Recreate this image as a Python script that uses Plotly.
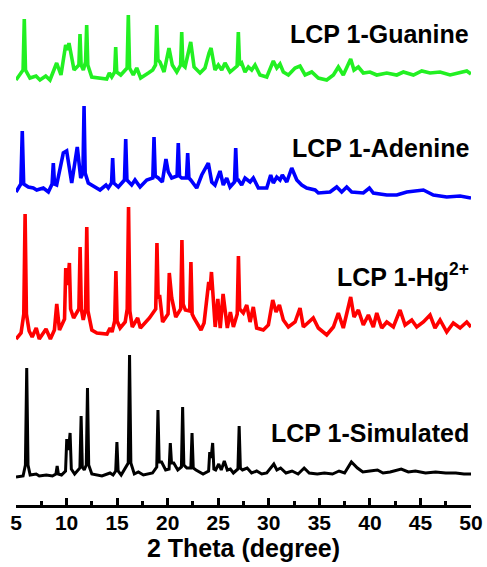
import plotly.graph_objects as go

# ---------------- data ----------------
# two-theta positions (degree) and relative intensities for each pattern
sim_x = [5.0, 5.7, 5.93, 6.06, 6.19, 6.4, 7.0, 7.3, 8.0, 8.6, 8.95, 9.07, 9.19, 9.5, 9.9, 10.02,
         10.2, 10.35, 10.47, 10.8, 11.32, 11.44, 11.56, 11.75, 11.95, 12.07, 12.19, 12.5, 13.5,
         14.3, 14.6, 14.86, 14.98, 15.1, 15.4, 16.1, 16.23, 16.36, 16.7, 17.1, 17.6, 18.5, 18.92,
         19.04, 19.16, 19.4, 19.8, 20.14, 20.26, 20.38, 20.6, 21.0, 21.36, 21.48, 21.6, 21.9,
         22.29, 22.41, 22.53, 22.8, 23.5, 24.05, 24.16, 24.3, 24.45, 24.57, 24.75, 25.05, 25.3,
         25.6, 25.9, 26.2, 26.5, 26.95, 27.07, 27.19, 27.4, 27.86, 28.3, 28.8, 29.3, 29.8, 30.5,
         30.8, 31.17, 31.7, 32.3, 32.9, 33.5, 34.0, 34.8, 35.5, 36.3, 36.95, 37.5, 38.17, 38.77,
         39.3, 40.0, 40.75, 41.3, 42.0, 43.1, 43.8, 44.5, 45.5, 46.5, 47.5, 48.5, 49.3, 50.0]
sim_y = [0, 1, 12, 109, 12, 2, 3, 1, 2, 1, 3, 11, 3, 2, 6, 38,
         27, 44, 8, 3, 9, 61, 10, 7, 12, 89, 12, 3, 1,
         4, 2, 6, 35, 6, 2, 14, 122, 14, 3, 5, 2, 4, 10,
         67, 15, 15, 7, 8, 34, 14, 14, 7, 10, 70, 12, 9,
         9, 44, 9, 7, 3, 6, 25, 19, 34, 8, 7, 13, 7,
         16, 7, 8, 4, 8, 51, 9, 7, 9, 4, 6, 3, 4, 13,
         7, 9, 4, 6, 3, 9, 4, 3, 4, 3, 6, 4, 15, 9,
         5, 6, 7, 4, 5, 8, 5, 6, 4, 5, 4, 4, 3, 3]

hg_x = [5.0, 5.5, 5.77, 5.9, 6.03, 6.3, 6.6, 7.0, 7.3, 7.97, 8.4, 8.8, 9.03, 9.3, 9.8, 9.92,
        10.1, 10.28, 10.4, 10.7, 11.22, 11.34, 11.46, 11.65, 11.88, 12.0, 12.12, 12.5, 13.0,
        14.0, 14.3, 14.5, 14.76, 14.88, 15.0, 15.3, 15.8, 16.0, 16.13, 16.26, 16.5, 17.03, 17.3,
        17.8, 18.2, 18.82, 18.94, 19.06, 19.2, 19.5, 20.04, 20.16, 20.4, 20.8, 21.29, 21.41,
        21.53, 21.75, 22.18, 22.3, 22.42, 22.6, 23.3, 23.6, 24.06, 24.2, 24.33, 24.7, 24.96,
        25.2, 25.48, 25.9, 26.2, 26.5, 26.88, 27.0, 27.12, 27.48, 27.82, 28.15, 28.47, 28.8,
        29.46, 29.96, 30.39, 30.72, 31.05, 31.44, 31.94, 32.6, 33.09, 33.42, 33.9, 34.4, 34.9,
        35.73, 36.39, 36.88, 37.37, 38.1, 38.43, 38.86, 39.35, 39.85, 40.34, 40.68, 41.17,
        41.67, 42.32, 42.98, 43.48, 44.14, 44.63, 45.29, 45.95, 46.44, 46.94, 47.6, 48.25,
        48.92, 49.58, 50.0]
hg_y = [0, 6, 25, 125, 25, 8, 2, 11, 0, 10, 0, 9, 35, 9, 20, 71,
        54, 76, 30, 21, 30, 92, 30, 19, 30, 112, 28, 9, 6,
        5, 11, 7, 18, 68, 18, 11, 17, 30, 132, 28, 12, 21, 11,
        17, 21, 30, 96, 40, 44, 17, 25, 66, 41, 22, 30, 99,
        35, 29, 28, 77, 25, 21, 9, 16, 57, 49, 67, 12, 40,
        11, 45, 11, 27, 12, 25, 83, 30, 26, 34, 17, 32, 11,
        9, 14, 39, 27, 34, 19, 12, 17, 31, 12, 17, 21, 11,
        4, 12, 26, 11, 42, 22, 29, 14, 24, 12, 26, 11,
        17, 12, 29, 14, 19, 12, 17, 24, 11, 19, 7, 16,
        11, 17, 12]

ade_x = [5.0, 5.48, 5.62, 5.76, 6.22, 6.71, 7.05, 7.7, 8.2, 8.57, 8.69, 8.81, 9.02, 9.68, 10.01,
         10.51, 11.06, 11.4, 11.62, 11.73, 11.84, 12.15, 13.31, 13.9, 14.13, 14.45, 14.56, 14.67,
         15.12, 15.73, 15.85, 15.97, 16.44, 16.77, 17.27, 17.93, 18.53, 18.65, 18.77, 19.08, 19.47,
         19.83, 20.06, 20.4, 20.93, 21.05, 21.17, 21.39, 21.86, 21.98, 22.1, 22.28, 22.87, 23.37,
         24.02, 24.36, 24.68, 25.18, 25.5, 25.84, 26.17, 26.61, 26.73, 26.85, 26.99, 27.32, 27.65,
         28.15, 28.47, 28.97, 29.8, 30.19, 30.45, 30.79, 31.11, 31.34, 31.78, 32.27, 32.77, 33.26,
         33.75, 34.58, 34.9, 36.06, 36.72, 37.21, 37.71, 38.2, 39.35, 39.95, 40.34, 41.67, 42.66,
         43.65, 45.29, 46.28, 47.6, 48.92, 50.0]
ade_y = [6, 14, 67, 14, 11, 10, 8, 10, 6, 14, 35, 14, 13, 45, 47,
         15, 51, 20, 25, 92, 25, 15, 8, 13, 10, 15, 40, 15,
         11, 18, 59, 18, 13, 18, 11, 18, 20, 61, 22, 20, 16,
         39, 26, 20, 22, 55, 22, 20, 20, 45, 20, 18, 10, 23,
         35, 16, 13, 27, 13, 20, 11, 16, 50, 18, 18, 13, 20,
         16, 20, 10, 10, 23, 15, 21, 18, 23, 16, 30, 18, 13,
         10, 8, 5, 6, 11, 6, 11, 6, 5, 10, 5, 3, 3,
         6, 8, 3, 1, 2, 0]

gua_x = [5.0, 5.7, 5.82, 5.94, 6.38, 6.98, 7.37, 7.94, 8.36, 9.02, 9.45, 9.91, 10.11, 10.24, 10.74,
         11.22, 11.33, 11.44, 11.66, 11.88, 11.99, 12.1, 12.49, 13.97, 14.23, 14.47, 14.76, 14.86,
         14.96, 15.36, 15.99, 16.11, 16.23, 16.6, 16.94, 17.33, 18.09, 18.52, 18.8, 18.92, 19.04,
         19.24, 19.64, 20.13, 20.46, 20.9, 21.28, 21.39, 21.5, 21.72, 22.28, 22.61, 23.2, 23.69,
         24.09, 24.29, 24.68, 25.01, 25.35, 25.67, 26.17, 26.87, 26.99, 27.11, 27.32, 27.65, 27.98,
         28.31, 28.64, 29.13, 29.8, 30.12, 30.45, 30.79, 31.11, 31.44, 31.94, 32.6, 33.09, 33.59,
         34.25, 34.9, 35.73, 36.39, 36.88, 37.37, 38.1, 38.43, 38.86, 39.35, 40.01, 40.68, 41.67,
         42.66, 43.31, 44.3, 45.13, 45.95, 46.94, 47.93, 48.92, 49.58, 50.0]
gua_y = [0, 10, 61, 10, 2, 4, 0, 4, 0, 17, 5, 35, 30, 37, 10,
         15, 46, 15, 10, 18, 55, 15, 3, 1, 7, 3, 8, 33,
         8, 5, 12, 65, 12, 5, 12, 2, 7, 10, 15, 55, 20,
         18, 8, 32, 15, 8, 15, 48, 15, 13, 38, 13, 7, 12,
         27, 32, 10, 15, 10, 17, 8, 14, 48, 15, 17, 8, 13,
         10, 15, 5, 3, 10, 19, 12, 16, 8, 5, 12, 14, 5,
         8, 2, 0, 5, 13, 5, 21, 10, 13, 7, 8, 5, 7,
         5, 8, 5, 9, 7, 8, 5, 7, 9, 6]

names = ["LCP 1-Simulated", "LCP 1-Hg<sup>2+</sup>", "LCP 1-Adenine", "LCP 1-Guanine"]
tick_vals = [5, 10, 15, 20, 25, 30, 35, 40, 45, 50]
x_title = "2 Theta (degree)"

# ---------------- style / layout ----------------
offsets = [28, 166, 307, 425]
label_y = [72, 230, 357, 471]
colors = ["#000000", "#FF0000", "#0000FF", "#22F022"]
widths = [3, 3.6, 3.6, 3.6]
FONT = "Liberation Sans, Arial, sans-serif"

series = [(sim_x, sim_y), (hg_x, hg_y), (ade_x, ade_y), (gua_x, gua_y)]

fig = go.Figure()
for (xs, ys), off, col, w, nm in zip(series, offsets, colors, widths, names):
    fig.add_trace(go.Scatter(x=xs, y=[v + off for v in ys], mode="lines",
                             line=dict(color=col, width=w), name=nm,
                             showlegend=False))

for nm, ly in zip(names, label_y):
    fig.add_annotation(x=50, y=ly, xref="x", yref="y", text="<b>%s</b>" % nm,
                       showarrow=False, xanchor="right", yanchor="middle",
                       font=dict(family=FONT, size=25, color="black"))

fig.update_layout(
    width=487, height=567,
    margin=dict(l=16, r=16, t=5, b=62),
    paper_bgcolor="white", plot_bgcolor="white",
    font=dict(family=FONT, color="black"),
)
fig.update_xaxes(
    range=[5, 50], tickvals=tick_vals,
    ticktext=["<b>%d</b>" % v for v in tick_vals],
    ticks="inside", ticklen=7, tickwidth=3, tickcolor="black",
    minor=dict(ticks="inside", ticklen=4, tickwidth=3, dtick=2.5, tick0=5, tickcolor="black"),
    showline=True, linewidth=3, linecolor="black",
    showgrid=False, zeroline=False,
    tickfont=dict(family=FONT, size=21, color="black"),
    ticklabelstandoff=-3,
    title=dict(text="<b>%s</b>" % x_title, font=dict(family=FONT, size=25, color="black"), standoff=0),
)
fig.update_yaxes(range=[0, 500], visible=False, showgrid=False, zeroline=False)

fig.write_html("out.html")
